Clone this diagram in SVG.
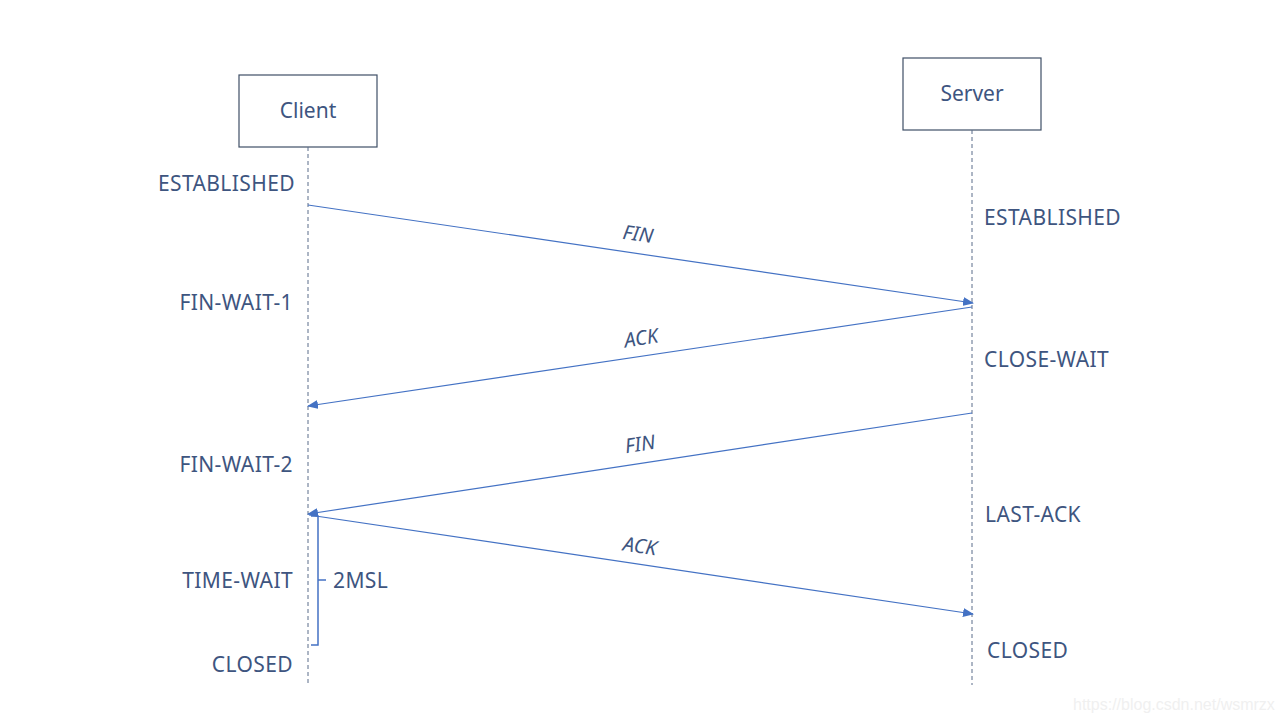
<svg xmlns="http://www.w3.org/2000/svg" width="1280" height="720" viewBox="0 0 1280 720">
<style>
.box{fill:#fff;stroke:#3F4F66;stroke-width:1.2}
.life{stroke:#5A6C8A;stroke-width:1;stroke-dasharray:4 3}
.msg{stroke:#4472C4;stroke-width:1.2;fill:none}
.st{font-family:"Noto Sans",sans-serif;font-size:21px;letter-spacing:0.4px;fill:#3E5580}
.lbl{font-family:"Noto Sans",sans-serif;font-size:20px;fill:#3E5580;font-style:italic}
.nm{font-family:"Noto Sans",sans-serif;font-size:21px;fill:#3E5580}
</style>
<defs>
<marker id="ah" markerWidth="11" markerHeight="9" refX="10" refY="4.5" orient="auto" markerUnits="userSpaceOnUse">
<path d="M0,0 L11,4.5 L0,9 Z" fill="#4472C4"/>
</marker>
</defs>
<rect width="1280" height="720" fill="#fff"/>
<g id="client">
<rect class="box" x="239" y="75" width="138" height="72"/>
<text class="nm" x="308" y="118" text-anchor="middle">Client</text>
<line class="life" x1="308" y1="147" x2="308" y2="685"/>
</g>
<g id="server">
<rect class="box" x="903" y="58" width="138" height="72"/>
<text class="nm" x="972" y="101" text-anchor="middle">Server</text>
<line class="life" x1="972" y1="130" x2="972" y2="685"/>
</g>
<g id="client-states">
<text class="st" x="295" y="191" text-anchor="end">ESTABLISHED</text>
<text class="st" x="293" y="310" text-anchor="end">FIN-WAIT-1</text>
<text class="st" x="293" y="472" text-anchor="end">FIN-WAIT-2</text>
<text class="st" x="293" y="588" text-anchor="end">TIME-WAIT</text>
<text class="st" x="293" y="672" text-anchor="end">CLOSED</text>
</g>
<g id="server-states">
<text class="st" x="984" y="225">ESTABLISHED</text>
<text class="st" x="984" y="367">CLOSE-WAIT</text>
<text class="st" x="985" y="522">LAST-ACK</text>
<text class="st" x="987" y="658">CLOSED</text>
</g>
<g id="connectors">
<line class="msg" x1="308" y1="205" x2="973" y2="303" marker-end="url(#ah)"/>
<line class="msg" x1="972" y1="307" x2="308" y2="406" marker-end="url(#ah)"/>
<line class="msg" x1="972" y1="413" x2="308" y2="514" marker-end="url(#ah)"/>
<line class="msg" x1="309" y1="515" x2="973" y2="614" marker-end="url(#ah)"/>
</g>
<g id="labels">
<text class="lbl" x="638" y="241" text-anchor="middle" transform="rotate(8.4 638 234)">FIN</text>
<text class="lbl" x="641" y="345" text-anchor="middle" transform="rotate(-8.5 641 338)">ACK</text>
<text class="lbl" x="640" y="451" text-anchor="middle" transform="rotate(-8.6 640 444)">FIN</text>
<text class="lbl" x="640" y="553" text-anchor="middle" transform="rotate(8.5 640 546)">ACK</text>
</g>
<g id="msl">
<path d="M311,516 H318 V645 H311 M318,580 H326" stroke="#4472C4" stroke-width="1.5" fill="none"/>
<text class="st" x="333" y="588">2MSL</text>
</g>
<text x="1073" y="710" font-family="Liberation Sans,sans-serif" font-size="16" fill="#F0F0F0">https://blog.csdn.net/wsmrzx</text>
</svg>
